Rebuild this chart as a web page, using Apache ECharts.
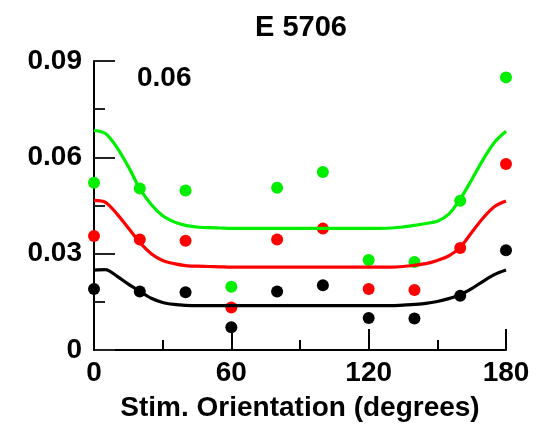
<!DOCTYPE html>
<html>
<head>
<meta charset="utf-8">
<script src="https://cdn.jsdelivr.net/npm/echarts@6/dist/echarts.min.js"></script>
<style>
html,body{margin:0;padding:0;background:#fff;}
#chart{width:541px;height:430px;}
</style>
</head>
<body>
<div id="chart"></div>
<script>
// Measured orientations (degrees)
const angles = [0, 20, 40, 60, 80, 100, 120, 140, 160, 180];
// Measured responses
const greenPts = [0.0521, 0.0503, 0.0497, 0.0197, 0.0505, 0.0554, 0.0280, 0.0274, 0.0465, 0.0849];
const redPts   = [0.0355, 0.0344, 0.0340, 0.0132, 0.0344, 0.0378, 0.0190, 0.0187, 0.0318, 0.0579];
const blackPts = [0.0190, 0.0182, 0.0180, 0.0071, 0.0182, 0.0202, 0.0100, 0.0098, 0.0169, 0.0311];

// Fitted curves, every 5 degrees
const fitAngles = [0,5,10,15,20,25,30,35,40,45,50,55,60,65,70,75,80,85,90,95,100,105,110,115,120,125,130,135,140,145,150,155,160,165,170,175,180];
const greenFit = [0.0684,0.0674,0.0631,0.0571,0.0503,0.0453,0.0418,0.0399,0.0388,0.0383,0.0381,0.0380,
  0.0379,0.0379,0.0379,0.0379,0.0379,0.0379,0.0379,0.0379,0.0379,0.0379,0.0379,0.0379,0.0379,0.0379,
  0.0380,0.0383,0.0388,0.0394,0.0401,0.0423,0.0470,0.0530,0.0593,0.0647,0.0681];
const redFit = [0.0466,0.0460,0.0424,0.0380,0.0335,0.0300,0.0279,0.0269,0.0263,0.0261,0.0260,0.0259,
  0.0258,0.0258,0.0258,0.0258,0.0258,0.0258,0.0258,0.0258,0.0258,0.0258,0.0258,0.0258,0.0258,0.0258,
  0.0258,0.0260,0.0264,0.0269,0.0279,0.0293,0.0320,0.0366,0.0411,0.0447,0.0464];
const blackFit = [0.0249,0.0250,0.0230,0.0205,0.0183,0.0161,0.0148,0.0142,0.0139,0.0138,0.0138,0.0138,
  0.0138,0.0138,0.0138,0.0138,0.0138,0.0138,0.0138,0.0138,0.0138,0.0138,0.0138,0.0138,0.0138,0.0138,
  0.0138,0.0140,0.0142,0.0145,0.0151,0.0160,0.0172,0.0191,0.0214,0.0235,0.0249];

const xTicks = [0, 60, 120, 180];
const yTicks = [0, 0.03, 0.06, 0.09];
const titleText = 'E 5706';
const noteText = '0.06';
const xName = 'Stim. Orientation (degrees)';

const GREEN = '#00ee00', RED = '#ff0000', BLACK = '#000000';
const FONT = '"Liberation Sans", Arial, Helvetica, sans-serif';

const pair = (xs, ys) => xs.map((x, i) => [x, ys[i]]);

function dots(name, ys, color) {
  return { name, type: 'scatter', data: pair(angles, ys), symbol: 'circle', symbolSize: 12,
    itemStyle: { color, opacity: 1 }, silent: true, animation: false };
}
function curve(name, ys, color) {
  return { name, type: 'line', data: pair(fitAngles, ys), smooth: 0.3, showSymbol: false, symbol: 'none',
    lineStyle: { color, width: 3.2 }, silent: true, animation: false };
}

const chart = echarts.init(document.getElementById('chart'), null, { renderer: 'canvas' });
chart.setOption({
  backgroundColor: '#ffffff',
  animation: false,
  grid: { left: 94, right: 35, top: 61, bottom: 80, containLabel: false },
  xAxis: {
    type: 'value', min: xTicks[0], max: xTicks[xTicks.length - 1], interval: 60,
    axisLine: { show: true, lineStyle: { color: '#000', width: 2 } },
    axisTick: { show: true, inside: true, length: 21, lineStyle: { color: '#000', width: 2 } },
    minorTick: { show: true, splitNumber: 2, length: 10, lineStyle: { color: '#000', width: 2 } },
    splitLine: { show: false },
    axisLabel: { fontSize: 28, fontWeight: 'bold', color: '#000', margin: 9, fontFamily: FONT,
      formatter: v => xTicks.includes(v) ? String(v) : '' },
    name: xName, nameLocation: 'middle', nameGap: 44, nameMoveOverlap: false,
    nameTextStyle: { fontSize: 28, fontWeight: 'bold', color: '#000', fontFamily: FONT }
  },
  yAxis: {
    type: 'value', min: yTicks[0], max: yTicks[yTicks.length - 1], interval: 0.03,
    axisLine: { show: true, lineStyle: { color: '#000', width: 2 } },
    axisTick: { show: true, inside: true, length: 21, lineStyle: { color: '#222', width: 2 } },
    minorTick: { show: true, splitNumber: 2, length: 11, lineStyle: { color: '#222', width: 2 } },
    splitLine: { show: false },
    axisLabel: { fontSize: 28, fontWeight: 'bold', color: '#000', margin: 12, fontFamily: FONT,
      formatter: v => { const t = yTicks.find(k => Math.abs(k - v) < 1e-9); return t === undefined ? '' : (t === 0 ? '0' : t.toFixed(2)); } }
  },
  graphic: [
    { type: 'text', x: 301, y: 28, silent: true,
      style: { text: titleText, fill: '#000', font: 'bold 29px ' + FONT, textAlign: 'center', textVerticalAlign: 'middle', verticalAlign: 'middle' } },
    { type: 'text', x: 137, y: 78, silent: true,
      style: { text: noteText, fill: '#000', font: 'bold 28px ' + FONT, textAlign: 'left', textVerticalAlign: 'middle', verticalAlign: 'middle' } }
  ],
  series: [
    dots('green points', greenPts, GREEN),
    curve('green fit', greenFit, GREEN),
    dots('red points', redPts, RED),
    curve('red fit', redFit, RED),
    dots('black points', blackPts, BLACK),
    curve('black fit', blackFit, BLACK)
  ]
});
</script>
</body>
</html>
